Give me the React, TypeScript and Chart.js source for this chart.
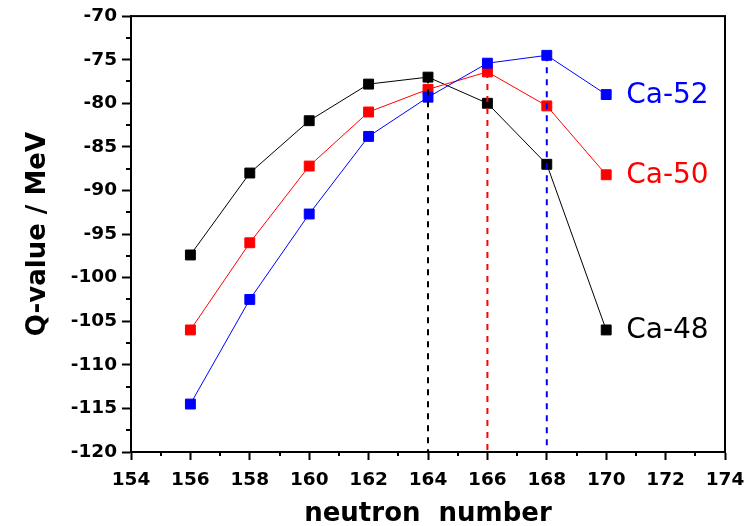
import React, { useEffect, useRef } from 'react';
import { Chart, registerables } from 'chart.js';

Chart.register(...registerables);

// ---- data ----
const neutronNumbers = [156, 158, 160, 162, 164, 166, 168, 170];
const ca48Values = [-97.4, -88, -82, -77.8, -77, -80, -87, -106];
const ca50Values = [-106, -96, -87.2, -81, -78.4, -76.4, -80.3, -88.2];
const ca52Values = [-114.5, -102.5, -92.7, -83.8, -79.3, -75.4, -74.5, -79];
const seriesNames = ['Ca-48', 'Ca-50', 'Ca-52'];
const seriesColors = ['#000000', '#ff0000', '#0000ff'];
const xMin = 154;
const xMax = 174;
const xStep = 2;
const yMin = -120;
const yMax = -70;
const yStep = 5;
const xTitle = 'neutron  number';
const yTitle = 'Q-value / MeV';

const allSeries = [ca48Values, ca50Values, ca52Values];

const yTickFont = { family: '"DejaVu Sans"', size: 18.5, weight: 'bold' as const };
const xTickFont = { family: '"DejaVu Sans"', size: 18.5, weight: 'bold' as const, lineHeight: 1.5 };
const titleFont = { family: '"DejaVu Sans"', size: 26, weight: 'bold' as const };

const decorPlugin = {
  id: 'decor',
  afterDraw(chart: any) {
    const { ctx, chartArea } = chart;
    const xs = chart.scales.x;
    const ys = chart.scales.y;
    ctx.save();
    // frame
    ctx.strokeStyle = '#000';
    ctx.lineWidth = 2;
    ctx.strokeRect(chartArea.left, chartArea.top, chartArea.right - chartArea.left, chartArea.bottom - chartArea.top);
    // minor ticks
    ctx.lineWidth = 2;
    ctx.beginPath();
    for (let v = xMin + xStep / 2; v < xMax; v += xStep) {
      const px = Math.round(xs.getPixelForValue(v));
      ctx.moveTo(px, chartArea.bottom);
      ctx.lineTo(px, chartArea.bottom + 4);
    }
    for (let v = yMin + yStep / 2; v < yMax; v += yStep) {
      const py = Math.round(ys.getPixelForValue(v));
      ctx.moveTo(chartArea.left, py);
      ctx.lineTo(chartArea.left - 5, py);
    }
    ctx.stroke();
    // series labels next to last point
    ctx.font = '28px "DejaVu Sans"';
    ctx.textBaseline = 'middle';
    ctx.textAlign = 'left';
    allSeries.forEach((vals, i) => {
      const lastX = neutronNumbers[neutronNumbers.length - 1];
      const lastY = vals[vals.length - 1];
      ctx.fillStyle = seriesColors[i];
      ctx.fillText(seriesNames[i], xs.getPixelForValue(lastX) + 20, ys.getPixelForValue(lastY) + 1);
    });
    ctx.restore();
  },
};

export default function App() {
  const canvasRef = useRef<HTMLCanvasElement | null>(null);

  useEffect(() => {
    if (!canvasRef.current) return;

    const peakDatasets = allSeries.map((vals, i) => {
      let idx = 0;
      vals.forEach((v, j) => {
        if (v > vals[idx]) idx = j;
      });
      return {
        label: seriesNames[i] + ' peak',
        data: [
          { x: neutronNumbers[idx], y: vals[idx] },
          { x: neutronNumbers[idx], y: yMin },
        ],
        borderColor: seriesColors[i],
        borderWidth: 2,
        borderDash: [6, 6],
        pointRadius: 0,
        showLine: true,
        fill: false,
      };
    });

    const seriesDatasets = allSeries.map((vals, i) => ({
      label: seriesNames[i],
      data: neutronNumbers.map((x, j) => ({ x, y: vals[j] })),
      borderColor: seriesColors[i],
      backgroundColor: seriesColors[i],
      borderWidth: 1,
      pointStyle: 'rect',
      pointRadius: 7,
      pointBorderWidth: 1,
      pointBorderColor: seriesColors[i],
      pointBackgroundColor: seriesColors[i],
      showLine: true,
      fill: false,
    }));

    const chart = new Chart(canvasRef.current, {
      type: 'scatter',
      data: { datasets: [...peakDatasets, ...seriesDatasets.reverse()] as any },
      options: {
        animation: false,
        responsive: false,
        layout: { padding: { top: 15, right: 28, left: 0, bottom: 0 } },
        plugins: { legend: { display: false }, tooltip: { enabled: false } },
        scales: {
          x: {
            type: 'linear',
            min: xMin,
            max: xMax,
            ticks: { stepSize: xStep, color: '#000', font: xTickFont, padding: 6, maxRotation: 0 },
            grid: { drawOnChartArea: false, tickLength: 8, color: '#000', tickWidth: 2 },
            border: { display: true, color: '#000', width: 2 },
            title: { display: true, text: xTitle, color: '#000', font: titleFont, padding: { top: 0, bottom: -4 } },
            afterFit: (s: any) => {
              s.height = 74;
            },
          },
          y: {
            type: 'linear',
            min: yMin,
            max: yMax,
            ticks: { stepSize: yStep, color: '#000', font: yTickFont, padding: 5 },
            grid: { drawOnChartArea: false, tickLength: 9, color: '#000', tickWidth: 2 },
            border: { display: true, color: '#000', width: 2 },
            title: { display: true, text: yTitle, color: '#000', font: titleFont, padding: { top: 23, bottom: 0 } },
            afterFit: (s: any) => {
              s.width = 131;
            },
          },
        },
      },
      plugins: [decorPlugin],
    });

    return () => chart.destroy();
  }, []);

  return (
    <div style={{ position: 'absolute', left: 0, top: 0, width: 753, height: 526, background: '#fff' }}>
      <canvas ref={canvasRef} width={753} height={526} />
    </div>
  );
}
